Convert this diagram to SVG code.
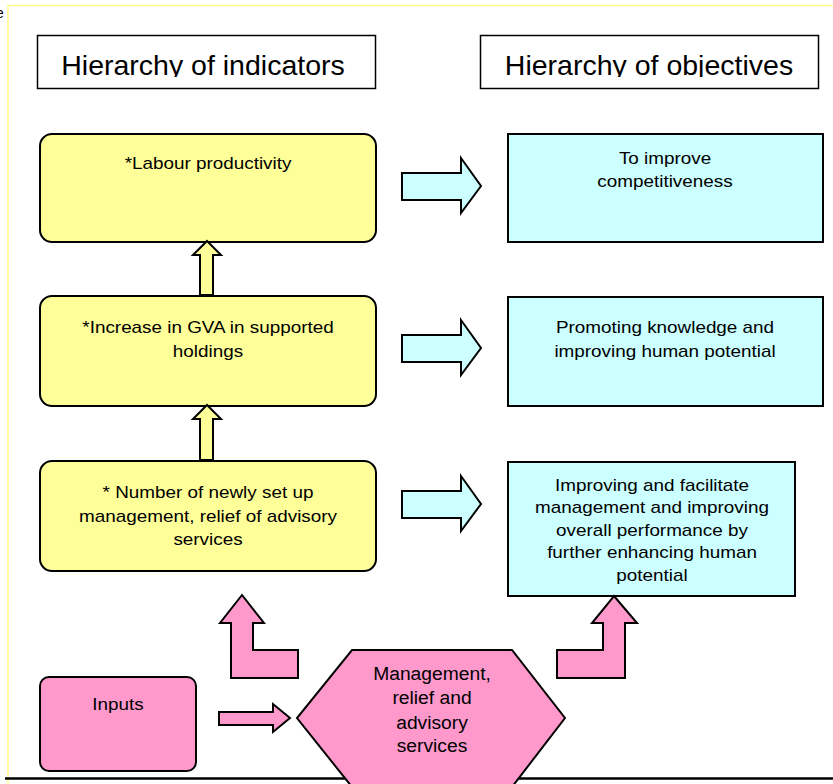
<svg xmlns="http://www.w3.org/2000/svg" width="833" height="784" viewBox="0 0 833 784">
  <style>
    .lbl { font-family: "Liberation Sans", Arial, sans-serif; fill: #000; text-anchor: middle; }
    .hdr { font-size: 28.5px; }
    .txt { font-size: 16px; }
    .hex { font-size: 18px; }
    .box { stroke: #000; stroke-width: 2; }
    .ind { fill: #FFFF99; }
    .obj { fill: #CCFFFF; }
    .pink { fill: #FF99CC; }
    .arr { stroke: #000; stroke-width: 2; stroke-linejoin: miter; }
  </style>
  <defs>
    <clipPath id="hdrClipL"><rect x="38" y="36" width="337" height="41"/></clipPath>
    <clipPath id="hdrClipR"><rect x="481" y="36" width="337" height="41"/></clipPath>
  </defs>

  <rect width="833" height="784" fill="#fff"/>

  <!-- page frame -->
  <text class="lbl" x="0" y="18" style="font-size:14px;text-anchor:middle">e</text>
  <rect x="8" y="5.5" width="840" height="800" fill="none" stroke="#FFFF88" stroke-width="1.5"/>
  <line x1="5" y1="778.5" x2="833" y2="778.5" stroke="#000" stroke-width="2.5"/>

  <!-- column headers -->
  <g id="header-indicators">
    <rect x="37.5" y="35.5" width="338" height="53" fill="#fff" stroke="#000" stroke-width="1.5"/>
    <text class="lbl hdr" x="203" y="75" clip-path="url(#hdrClipL)">Hierarchy of indicators</text>
  </g>
  <g id="header-objectives">
    <rect x="480.5" y="35.5" width="338" height="53" fill="#fff" stroke="#000" stroke-width="1.5"/>
    <text class="lbl hdr" x="649" y="75" clip-path="url(#hdrClipR)">Hierarchy of objectives</text>
  </g>

  <!-- indicators -->
  <g id="ind-labour">
    <rect class="box ind" x="40" y="134" width="336" height="108" rx="12"/>
    <g transform="translate(208,0) scale(1.18,1)">
      <text class="lbl txt" x="0" y="169">*Labour productivity</text>
    </g>
  </g>
  <g id="ind-gva">
    <rect class="box ind" x="40" y="296" width="336" height="110" rx="12"/>
    <g transform="translate(208,0) scale(1.18,1)">
      <text class="lbl txt" x="0" y="333">*Increase in GVA in supported</text>
      <text class="lbl txt" x="0" y="357">holdings</text>
    </g>
  </g>
  <g id="ind-services">
    <rect class="box ind" x="40" y="461" width="336" height="110" rx="12"/>
    <g transform="translate(208,0) scale(1.18,1)">
      <text class="lbl txt" x="0" y="498">* Number of newly set up</text>
      <text class="lbl txt" x="0" y="522">management, relief of advisory</text>
      <text class="lbl txt" x="0" y="545">services</text>
    </g>
  </g>

  <!-- objectives -->
  <g id="obj-competitiveness">
    <rect class="box obj" x="508" y="134" width="315" height="108"/>
    <g transform="translate(665,0) scale(1.18,1)">
      <text class="lbl txt" x="0" y="164">To improve</text>
      <text class="lbl txt" x="0" y="187">competitiveness</text>
    </g>
  </g>
  <g id="obj-knowledge">
    <rect class="box obj" x="508" y="297" width="315" height="109"/>
    <g transform="translate(665,0) scale(1.18,1)">
      <text class="lbl txt" x="0" y="333">Promoting knowledge and</text>
      <text class="lbl txt" x="0" y="357">improving human potential</text>
    </g>
  </g>
  <g id="obj-performance">
    <rect class="box obj" x="508" y="462" width="287" height="134"/>
    <g transform="translate(652,0) scale(1.18,1)">
      <text class="lbl txt" x="0" y="491">Improving and facilitate</text>
      <text class="lbl txt" x="0" y="513.5">management and improving</text>
      <text class="lbl txt" x="0" y="536">overall performance by</text>
      <text class="lbl txt" x="0" y="558.5">further enhancing human</text>
      <text class="lbl txt" x="0" y="581">potential</text>
    </g>
  </g>

  <!-- inputs and measure -->
  <g id="inputs">
    <rect class="box pink" x="40" y="677" width="156" height="94" rx="9"/>
    <g transform="translate(118,0) scale(1.18,1)">
      <text class="lbl txt" x="0" y="710">Inputs</text>
    </g>
  </g>
  <g id="measure">
    <polygon class="box pink" points="352,650 512,650 565,718 512,787 352,787 297,718"/>
    <g transform="translate(432,0) scale(1.07,1)">
      <text class="lbl hex" x="0" y="680">Management,</text>
      <text class="lbl hex" x="0" y="704">relief and</text>
      <text class="lbl hex" x="0" y="729">advisory</text>
      <text class="lbl hex" x="0" y="752">services</text>
    </g>
  </g>

  <!-- connectors -->
  <g id="connectors">
    <!-- indicator to objective -->
    <polygon class="arr obj" points="402,173 461,173 461,158 481,186 461,213 461,200 402,200"/>
    <polygon class="arr obj" points="402,335 461,335 461,320 481,348 461,375 461,362 402,362"/>
    <polygon class="arr obj" points="402,491 461,491 461,476 481,504 461,531 461,518 402,518"/>
    <!-- indicator chain -->
    <polygon class="arr ind" points="207,241 221,255 213,255 213,295 200,295 200,255 193,255"/>
    <polygon class="arr ind" points="207,405 221,419 213,419 213,460 200,460 200,419 193,419"/>
    <!-- measure outputs -->
    <polygon class="arr pink" points="242,595 264,623 253,623 253,650 298,650 298,678 231,678 231,623 220,623"/>
    <polygon class="arr pink" points="614,596 637,623 625,623 625,678 557,678 557,650 603,650 603,623 592,623"/>
    <!-- inputs to measure -->
    <polygon class="arr pink" points="219,712 273,712 273,704 290,718 273,732 273,725 219,725"/>
  </g>
</svg>
